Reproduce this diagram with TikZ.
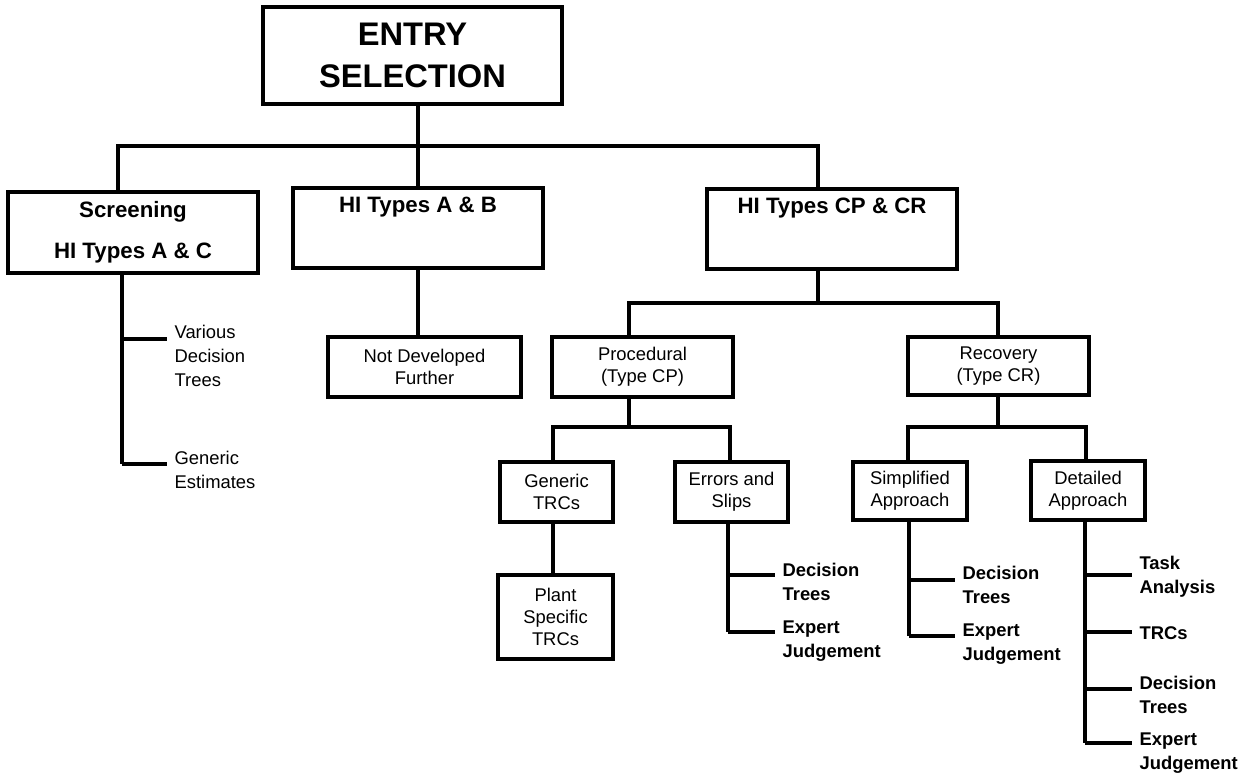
\documentclass[tikz,border=0pt]{standalone}
\usepackage{fontspec}
\setmainfont{Liberation Sans}
\begin{document}
\begin{tikzpicture}[x=0.75pt,y=-0.75pt,
  box/.style={draw, line width=2.6pt, inner sep=0pt, align=center},
  sz/.style 2 args={minimum width=#1*0.75pt, minimum height=#2*0.75pt},
  bigbox/.style={box, font=\fontsize{24.5}{31.5}\selectfont\bfseries},
  midbox/.style={box, font=\fontsize{16.7}{30.75}\selectfont\bfseries},
  smallbox/.style={box, font=\fontsize{13.8}{16.8}\selectfont},
  leaf/.style={anchor=base west, inner xsep=5.5pt, inner ysep=0pt, align=left, font=\fontsize{13.8}{18}\selectfont\bfseries},
  leafreg/.style={leaf, font=\fontsize{13.8}{18}\selectfont},
  conn/.style={line width=2.6pt}]
\useasboundingbox (0,0) rectangle (1252,774);

% boxes
\node[bigbox, sz={299}{97}] (entry) at (412.5,55.5) {ENTRY\\SELECTION};
\node[midbox, sz={250}{81}] (scr) at (133,232.5) {Screening\\HI Types A \& C};
\node[midbox, sz={250}{80}] (hab) at (418,228) {HI Types A \& B\\\vphantom{Hy}};
\node[midbox, sz={250}{80}] (cpcr) at (832,229) {HI Types CP \& CR\\\vphantom{Hy}};
\node[smallbox, sz={193}{60}] (ndf) at (424.5,367) {Not Developed\\Further};
\node[smallbox, sz={181}{60}] (proc) at (642.5,367) {Procedural\\(Type CP)};
\node[smallbox, sz={181}{58}] (rec) at (998.5,366) {Recovery\\(Type CR)};
\node[smallbox, sz={113}{60}] (gtrc) at (556.5,492) {Generic\\TRCs};
\node[smallbox, sz={113}{60}] (err) at (731.5,492) {Errors and\\Slips};
\node[smallbox, sz={115}{84}] (pst) at (555.5,617) {Plant\\Specific\\TRCs};
\node[smallbox, sz={114}{58}] (simp) at (910,491) {Simplified\\Approach};
\node[smallbox, sz={114}{59}] (det) at (1088,490.5) {Detailed\\Approach};

% junction coordinates
\coordinate (h1) at (118,146);
\coordinate (h2) at (818,146);
\coordinate (h3) at (818,303);
\coordinate (pL) at (629,303);
\coordinate (pR) at (998,303);
\coordinate (qL) at (553,427);
\coordinate (q0) at (629,427);
\coordinate (qR) at (730,427);
\coordinate (rL) at (908,427);
\coordinate (r0) at (998,427);
\coordinate (rR) at (1086,427);
\coordinate (s1) at (122,339);
\coordinate (s2) at (122,464);
\coordinate (e1) at (728,575);
\coordinate (e2) at (728,632);
\coordinate (m1) at (909,580);
\coordinate (m2) at (909,636);
\coordinate (d1) at (1085,575);
\coordinate (d2) at (1085,632);
\coordinate (d3) at (1085,689);
\coordinate (d4) at (1085,743);

% leaves (anchor = baseline of the last line)
\node[leafreg] (vdt) at (167,386.6) {Various\\Decision\\Trees};
\node[leafreg] (ges) at (167,488.6) {Generic\\Estimates};
\node[leaf] (edt) at (775,600.6) {Decision\\Trees};
\node[leaf] (eej) at (775,657.6) {Expert\\Judgement};
\node[leaf] (mdt) at (955,603.6) {Decision\\Trees};
\node[leaf] (mej) at (955,660.6) {Expert\\Judgement};
\node[leaf] (dta) at (1132,593.6) {Task\\Analysis};
\node[leaf] (dtr) at (1132,639.6) {TRCs};
\node[leaf] (ddt) at (1132,713.6) {Decision\\Trees};
\node[leaf] (dej) at (1132,769.6) {Expert\\Judgement};

% connectors
\draw[conn] (entry.south -| hab.north) -- (hab.north);
\draw[conn] (h1 |- scr.north) -- (h1) -- (h2) -- (h2 |- cpcr.north);
\draw[conn] (hab.south) -- (ndf.north -| hab.south);
\draw[conn] (cpcr.south -| h3) -- (h3);
\draw[conn] (proc.north -| pL) -- (pL) -- (pR) -- (rec.north -| pR);
\draw[conn] (proc.south -| q0) -- (q0);
\draw[conn] (gtrc.north -| qL) -- (qL) -- (qR) -- (err.north -| qR);
\draw[conn] (gtrc.south -| qL) -- (pst.north -| qL);
\draw[conn] (rec.south -| r0) -- (r0);
\draw[conn] (simp.north -| rL) -- (rL) -- (rR) -- (det.north -| rR);

\draw[conn] (scr.south -| s1) -- (s2);
\draw[conn] (s1) -- (s1 -| vdt.west);
\draw[conn] (s2) -- (s2 -| ges.west);
\draw[conn] (err.south -| e1) -- (e2);
\draw[conn] (e1) -- (e1 -| edt.west);
\draw[conn] (e2) -- (e2 -| eej.west);
\draw[conn] (simp.south -| m1) -- (m2);
\draw[conn] (m1) -- (m1 -| mdt.west);
\draw[conn] (m2) -- (m2 -| mej.west);
\draw[conn] (det.south -| d1) -- (d4);
\draw[conn] (d1) -- (d1 -| dta.west);
\draw[conn] (d2) -- (d2 -| dtr.west);
\draw[conn] (d3) -- (d3 -| ddt.west);
\draw[conn] (d4) -- (d4 -| dej.west);
\end{tikzpicture}
\end{document}
